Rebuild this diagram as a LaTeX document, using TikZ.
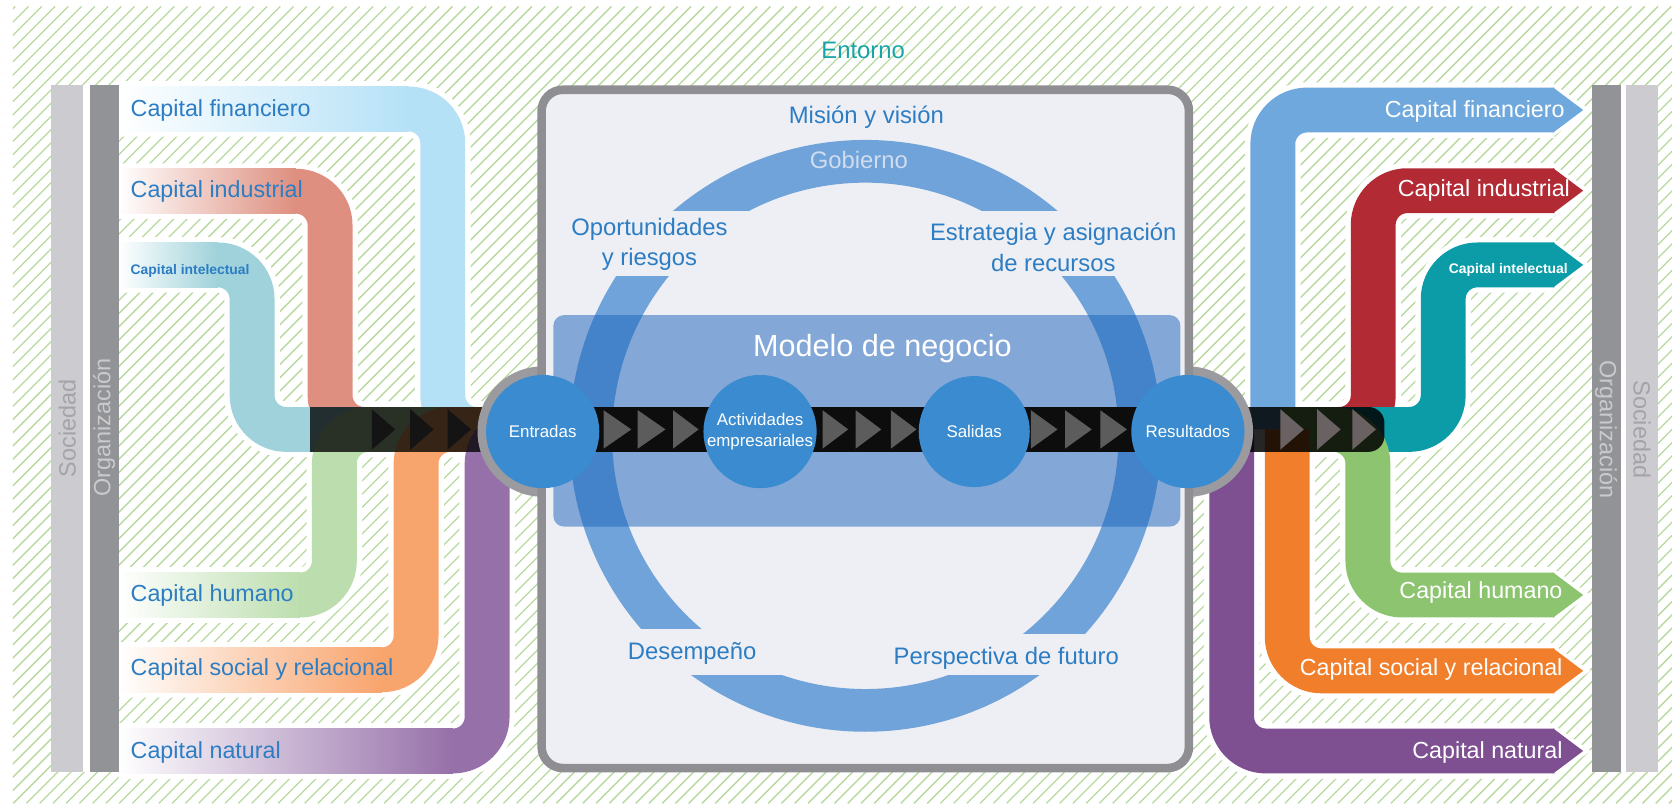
\documentclass[tikz,border=0pt]{standalone}
\usepackage{fontspec}
\setmainfont{Liberation Sans}
\definecolor{cfin}{HTML}{B5E1F7}
\definecolor{cind}{HTML}{DE8F7F}
\definecolor{cint}{HTML}{9FD2DA}
\definecolor{chum}{HTML}{BCDEAE}
\definecolor{csoc}{HTML}{F8A46D}
\definecolor{cnat}{HTML}{9670A9}
\definecolor{rfin}{HTML}{6FA8DC}
\definecolor{rind}{HTML}{B22A33}
\definecolor{rint}{HTML}{0B9CA8}
\definecolor{rhum}{HTML}{8DC470}
\definecolor{rsoc}{HTML}{F17E2A}
\definecolor{rnat}{HTML}{7E4F91}
\definecolor{clab}{HTML}{2C7DC3}
\definecolor{cringb}{HTML}{6FA3DA}
\definecolor{ccirc}{HTML}{3A8BD0}
\definecolor{cmodel}{HTML}{1A62BB}
\definecolor{cborder}{HTML}{8F8F93}
\definecolor{cdisk}{HTML}{9B9B9F}
\definecolor{cboxfill}{HTML}{EEEFF4}
\definecolor{chatch}{HTML}{B7D99F}
\definecolor{cbarl}{HTML}{CBCBD0}
\definecolor{cbard}{HTML}{929396}
\definecolor{ctxl}{HTML}{A3A3A9}
\definecolor{ctxd}{HTML}{CACACD}
\definecolor{centorno}{HTML}{19A5A8}
\definecolor{cgob}{HTML}{D0DCEF}
\definecolor{ctri}{HTML}{5C5C5C}
\definecolor{ctrir}{HTML}{6A6262}
\tikzset{
  hatchline/.style={draw=chatch, line width=0.7pt},
  halo/.style={draw=white, line width=1.04cm, rounded corners=0.64cm},
  band/.style={line width=0.84cm, rounded corners=0.64cm},
  lab/.style={font=\fontsize{12.4}{15}\selectfont, text=clab, inner sep=0pt},
  rlab/.style={font=\fontsize{12.4}{15}\selectfont, text=white, inner sep=0pt, anchor=east},
  ringlab/.style={font=\fontsize{12.7}{16.2}\selectfont, text=clab, inner sep=0pt, align=center},
  circlab/.style={font=\fontsize{9}{11.4}\selectfont, text=white, inner sep=0pt, align=center},
  bartext/.style={font=\fontsize{12.5}{15}\selectfont, inner sep=0pt},
}
\begin{document}
\begin{tikzpicture}[x=0.02cm,y=-0.02cm]
\useasboundingbox (0,0) rectangle (1568,757);
\fill[white] (0,0) rectangle (1568,757);
% hatch background
\begin{scope}
\clip (12,6) rectangle (1565,752);
\foreach \k in {-60,...,127} \draw[hatchline] ({\k*12.4},752) -- ({\k*12.4+746},6);
\end{scope}
% ---------- left bands ----------
\foreach \yy/\xv in {102/414.5,179/309,248/236,557/313,627/389.5,703/456}
  \draw[halo] (111,\yy) -- (\xv,\yy) -- (\xv,402) -- (470,402);
\foreach \yy/\xv/\col in {102/414.5/cfin,179/309/cind,248/236/cint,557/313/chum,627/389.5/csoc,703/456/cnat}{
  \draw[band, draw=\col] (111,\yy) -- (\xv,\yy) -- (\xv,402) -- (470,402);
  \shade[left color=white, right color=\col] (111,{\yy-21}) rectangle ({\xv-32},{\yy+21});
}
% left strip
\fill[black, opacity=0.78] (290,381) rectangle (470,423);
\foreach \b in {348,384,419} \fill[black!92] (\b,383) -- (\b+22,402) -- (\b,421) -- cycle;
% ---------- right bands ----------
\draw[halo] (1191.5,402) -- (1191.5,103) -- (1455,103);
\draw[halo] (1200,402) -- (1285.5,402) -- (1285.5,178.5) -- (1455,178.5);
\draw[halo] (1200,402) -- (1351,402) -- (1351,248) -- (1455,248);
\draw[halo] (1200,402) -- (1280.5,402) -- (1280.5,557) -- (1455,557);
\draw[halo] (1205,402) -- (1205,628) -- (1455,628);
\draw[halo] (1153,402) -- (1153,703) -- (1455,703);
\foreach \yy in {103,178.5,248,557,628,703}
  \fill[white] (1452,{\yy-26}) -- (1489,\yy) -- (1452,{\yy+26}) -- cycle;
\draw[band, draw=rfin] (1191.5,402) -- (1191.5,103) -- (1455,103);
\draw[band, draw=rind] (1200,402) -- (1285.5,402) -- (1285.5,178.5) -- (1455,178.5);
\draw[band, draw=rint] (1200,402) -- (1351,402) -- (1351,248) -- (1455,248);
\draw[band, draw=rhum] (1200,402) -- (1280.5,402) -- (1280.5,557) -- (1455,557);
\draw[band, draw=rsoc] (1205,402) -- (1205,628) -- (1455,628);
\draw[band, draw=rnat] (1153,402) -- (1153,703) -- (1455,703);
\foreach \yy/\col in {103/rfin,178.5/rind,248/rint,557/rhum,628/rsoc,703/rnat}
  \fill[\col] (1454,{\yy-21}) -- (1482,\yy) -- (1454,{\yy+21}) -- cycle;
% right strip
\fill[black, opacity=0.85, rounded corners=0.3cm] (1150,381) rectangle (1296,423);
\foreach \b in {1198.5,1233,1266} \fill[ctrir] (\b,383) -- (\b+22,402) -- (\b,421) -- cycle;
% ---------- bars ----------
\fill[cbarl] (48,80) rectangle (78,723);
\fill[white] (78,80) rectangle (84,723);
\fill[cbard] (84,80) rectangle (111,723);
\fill[cbard] (1490,80) rectangle (1517,723);
\fill[white] (1517,80) rectangle (1522,723);
\fill[cbarl] (1522,80) rectangle (1552,723);
\node[bartext, text=ctxl, rotate=90] (socl) at (63,401) {Sociedad};
\node[bartext, text=ctxd, rotate=90] (orgl) at (97.5,400) {Organización};
\node[bartext, text=ctxd, rotate=-90] (orgr) at (1503.5,402) {Organización};
\node[bartext, text=ctxl, rotate=-90] (socr) at (1537,402) {Sociedad};
% ---------- central box ----------
\fill[cdisk] (508,404) circle (61);
\fill[cdisk] (1112,404) circle (61);
\draw[draw=cborder, line width=0.16cm, fill=cboxfill, rounded corners=0.4cm] (507,84) rectangle (1113,719);
% ring
\begin{scope}
\clip (480,0) rectangle (1140,197);
\fill[cringb, even odd rule] (810,408) circle (277) (810,408) circle (237);
\end{scope}
\begin{scope}
\clip (480,259) rectangle (810,588);
\fill[cringb, even odd rule] (810,408) circle (277) (810,408) circle (237);
\end{scope}
\begin{scope}
\clip (810,259) rectangle (1140,593);
\fill[cringb, even odd rule] (810,408) circle (277) (810,408) circle (237);
\end{scope}
\begin{scope}
\clip (480,632) rectangle (1140,760);
\fill[cringb, even odd rule] (810,408) circle (277) (810,408) circle (237);
\end{scope}
% modelo de negocio
\fill[cmodel, opacity=0.5, rounded corners=0.2cm] (518,295) rectangle (1105,493);
\node[font=\fontsize{16.3}{19}\selectfont, text=white, inner sep=0pt] (modelo) at (826,326) {Modelo de negocio};
% central strip
\fill[black!95] (508,381) rectangle (1112,423);
\foreach \b/\w in {565/26,597/26,630/24,770/24,801/24,834/24,965/25,997/25,1030/25}
  \fill[ctri] (\b,384) -- (\b+\w,402) -- (\b,420) -- cycle;
% circles
\node[circle, fill=ccirc, minimum size=2.12cm, inner sep=0pt] (entradas) at (508,404) {};
\node[circle, fill=ccirc, minimum size=2.12cm, inner sep=0pt] (activ) at (711.5,404) {};
\node[circle, fill=ccirc, minimum size=2.08cm, inner sep=0pt] (salidas) at (912,404) {};
\node[circle, fill=ccirc, minimum size=2.12cm, inner sep=0pt] (result) at (1112,404) {};
\node[circlab] (tentr) at (entradas) {Entradas};
\node[circlab] (tact) at (activ) {Actividades\\empresariales};
\node[circlab] (tsal) at (salidas) {Salidas};
\node[circlab] (tres) at (result) {Resultados};
% ring labels
\node[ringlab] (mision) at (811,109.5) {Misión y visión};
\node[ringlab, text=cgob] (gob) at (804,150) {Gobierno};
\node[ringlab] (oport) at (608,229) {Oportunidades\\y riesgos};
\node[ringlab] (estr) at (986,231.5) {Estrategia y asignación\\de recursos};
\node[ringlab] (desemp) at (648,611.5) {Desempeño};
\node[ringlab] (persp) at (942,616) {Perspectiva de futuro};
\node[ringlab, text=centorno] (entorno) at (808,47) {Entorno};
% left labels
\node[lab, anchor=west] (lfin) at (122,103) {Capital financiero};
\node[lab, anchor=west] (lind) at (122,179.5) {Capital industrial};
\node[lab, anchor=west, font=\fontsize{7.4}{9}\selectfont\bfseries] (lint) at (122,254) {Capital intelectual};
\node[lab, anchor=west] (lhum) at (122,557) {Capital humano};
\node[lab, anchor=west] (lsoc) at (122,627) {Capital social y relacional};
\node[lab, anchor=west] (lnat) at (122,704) {Capital natural};
% right labels
\node[rlab] (rfinl) at (1465,104.5) {Capital financiero};
\node[rlab] (rindl) at (1470,178) {Capital industrial};
\node[rlab, font=\fontsize{7.4}{9}\selectfont\bfseries] (rintl) at (1468,253) {Capital intelectual};
\node[rlab] (rhuml) at (1463,555) {Capital humano};
\node[rlab] (rsocl) at (1463,627) {Capital social y relacional};
\node[rlab] (rnatl) at (1463,704) {Capital natural};
\end{tikzpicture}
\end{document}
